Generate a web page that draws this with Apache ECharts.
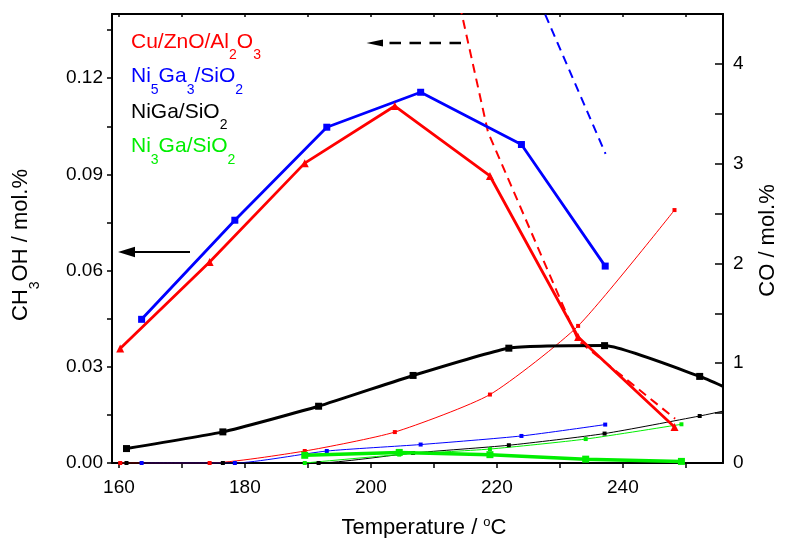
<!DOCTYPE html>
<html><head><meta charset="utf-8">
<script src="https://cdn.jsdelivr.net/npm/echarts@6/dist/echarts.min.js"></script>
<style>html,body{margin:0;padding:0;background:#fff}#c{width:786px;height:538px}</style>
</head><body><div id="c"></div>
<script>
const FONT = '"Liberation Sans", Arial, Helvetica, sans-serif';

// ---- axes ----
const xMin = 158.9, xMax = 255.9;
const xTickLabels = [160, 180, 200, 220, 240];
const xTickValues = [160, 170, 180, 190, 200, 210, 220, 230, 240, 250];
const leftTickLabels = [0, 0.03, 0.06, 0.09, 0.12];
const leftTickValues = [0, 0.015, 0.03, 0.045, 0.06, 0.075, 0.09, 0.105, 0.12, 0.135];
const rightTickLabels = [0, 1, 2, 3, 4];
const rightTickValues = [0, 0.5, 1, 1.5, 2, 2.5, 3, 3.5, 4];

// ---- Cu/ZnO/Al2O3 (red) ----
const tempCu = [160.2, 174.4, 189.5, 203.8, 218.9, 232.9, 248.2];
const ch3ohCu = [0.0357, 0.0627, 0.0935, 0.1113, 0.0895, 0.0393, 0.0112];
const coCu = [0, 0, 0.12, 0.31, 0.686, 1.374, 2.535];
const tempCuDash = [203.8, 218.6, 232.9, 248.3];
const valCuDash = [0.234, 0.1031, 0.0382, 0.0138];

// ---- Ni5Ga3/SiO2 (blue) ----
const tempNi5 = [163.6, 178.4, 193.0, 207.9, 223.9, 237.2];
const ch3ohNi5 = [0.0448, 0.0757, 0.1047, 0.1156, 0.0993, 0.0614];
const coNi5 = [0, 0, 0.12, 0.185, 0.271, 0.385];
const tempNi5Dash = [223.9, 237.25];
const valNi5Dash = [0.157, 0.0964];

// ---- NiGa/SiO2 (black) ----
const tempNiGa = [161.2, 176.5, 191.7, 206.7, 221.9, 237.1, 252.2, 255.9];
const ch3ohNiGa = [0.0045, 0.0097, 0.0177, 0.0273, 0.0358, 0.0366, 0.0270, 0.0239];
const coNiGa = [0, 0, 0, 0.10, 0.178, 0.295, 0.471, 0.52];

// ---- Ni3Ga/SiO2 (green) ----
const tempNi3 = [189.5, 204.5, 218.9, 234.1, 249.3];
const ch3ohNi3 = [0.0024, 0.0033, 0.0026, 0.0012, 0.0005];
const coNi3 = [0, 0.084, 0.14, 0.24, 0.388];

const RED = '#ff0000', BLUE = '#0000ff', BLACK = '#000000', GREEN = '#00ee00';

function pairs(xs, ys, lastHidden) {
  return xs.map((x, i) => {
    if (lastHidden && i === xs.length - 1) return { value: [x, ys[i]], symbol: 'none' };
    return [x, ys[i]];
  });
}

function thick(name, xs, ys, color, symbol, size, width, smooth, lastHidden) {
  return {
    name, type: 'line', xAxisIndex: 0, yAxisIndex: 0, data: pairs(xs, ys, lastHidden),
    symbol, symbolSize: size, showAllSymbol: true, smooth: smooth || false,
    lineStyle: { color, width }, itemStyle: { color, borderWidth: 0 }, z: 5
  };
}
function thin(name, xs, ys, color, lastHidden) {
  return {
    name, type: 'line', xAxisIndex: 0, yAxisIndex: 1, data: pairs(xs, ys, lastHidden),
    symbol: 'rect', symbolSize: 4, showAllSymbol: true, smooth: 0.2,
    lineStyle: { color, width: 1 }, itemStyle: { color, borderWidth: 0 }, z: 3
  };
}
function dashed(name, xs, ys, color) {
  return {
    name, type: 'line', xAxisIndex: 0, yAxisIndex: 0, data: pairs(xs, ys),
    symbol: 'none', lineStyle: { color, width: 2, type: [9, 6] }, z: 4
  };
}

const axisLine = { show: true, onZero: false, lineStyle: { color: '#000', width: 2 } };
const tickFont = { fontSize: 19, color: '#000', fontFamily: FONT };

// subscript: base token top-aligned, sub token bottom-aligned in a tall line
const legendRich = (color) => ({
  b: { fontSize: 21, lineHeight: 31, verticalAlign: 'top', fill: color, fontFamily: FONT },
  s: { fontSize: 14, lineHeight: 31, verticalAlign: 'bottom', fill: color, fontFamily: FONT }
});
function legendText(text, color, y) {
  return { type: 'text', x: 131, y: y - 10.5, z: 20,
    style: { text, rich: legendRich(color), align: 'left', verticalAlign: 'top' } };
}

const chart = echarts.init(document.getElementById('c'), null, { renderer: 'canvas' });
const option = {
  animation: false,
  backgroundColor: '#fff',
  grid: { left: 112, right: 63, top: 14, bottom: 75 },
  xAxis: [
    { type: 'value', min: xMin, max: xMax, position: 'bottom', axisLine,
      axisTick: { customValues: xTickValues, inside: false, length: 5, lineStyle: { color: '#000', width: 1.5 } },
      axisLabel: Object.assign({ customValues: xTickLabels, margin: 15 }, tickFont),
      splitLine: { show: false } },
    { type: 'value', min: xMin, max: xMax, position: 'top', axisLine,
      axisTick: { customValues: xTickValues, inside: true, length: 3, lineStyle: { color: '#000', width: 1.5 } },
      axisLabel: { show: false }, splitLine: { show: false } }
  ],
  yAxis: [
    { type: 'value', min: 0, max: 0.14, position: 'left', axisLine,
      axisTick: { customValues: leftTickValues, inside: false, length: 5, lineStyle: { color: '#000', width: 1.5 } },
      axisLabel: Object.assign({ customValues: leftTickLabels, margin: 9, formatter: v => v.toFixed(2) }, tickFont),
      splitLine: { show: false } },
    { type: 'value', min: 0, max: 4.5, position: 'right', axisLine,
      axisTick: { customValues: rightTickValues, inside: true, length: 8, lineStyle: { color: '#000', width: 1.5 } },
      axisLabel: Object.assign({ customValues: rightTickLabels, margin: 10 }, tickFont),
      splitLine: { show: false } }
  ],
  series: [
    thin('CO Cu/ZnO/Al2O3', tempCu, coCu, RED),
    thin('CO Ni5Ga3/SiO2', tempNi5, coNi5, BLUE),
    thin('CO NiGa/SiO2', tempNiGa, coNiGa, BLACK, true),
    thin('CO Ni3Ga/SiO2', tempNi3, coNi3, GREEN),
    dashed('Cu/ZnO/Al2O3 dashed', tempCuDash, valCuDash, RED),
    dashed('Ni5Ga3/SiO2 dashed', tempNi5Dash, valNi5Dash, BLUE),
    thick('CH3OH NiGa/SiO2', tempNiGa, ch3ohNiGa, BLACK, 'rect', 7, 3, 0.15, true),
    thick('CH3OH Ni3Ga/SiO2', tempNi3, ch3ohNi3, GREEN, 'rect', 7, 3.5),
    thick('CH3OH Ni5Ga3/SiO2', tempNi5, ch3ohNi5, BLUE, 'rect', 7, 2.8),
    thick('CH3OH Cu/ZnO/Al2O3', tempCu, ch3ohCu, RED, 'triangle', 8, 2.8)
  ],
  graphic: [
    legendText('{b|Cu/ZnO/Al}{s|2}{b|O}{s|3}', RED, 42),
    legendText('{b|Ni}{s|5}{b|Ga}{s|3}{b|/SiO}{s|2}', BLUE, 76.7),
    legendText('{b|NiGa/SiO}{s|2}', BLACK, 112),
    legendText('{b|Ni}{s|3}{b|Ga/SiO}{s|2}', GREEN, 146.7),
    // axis titles
    { type: 'text', x: 424, y: 527.5, z: 20,
      style: { text: '{b|Temperature / }{p|o}{b|C}', align: 'center', verticalAlign: 'top',
        rich: { b: { fontSize: 22, lineHeight: 23, verticalAlign: 'bottom', fill: '#000', fontFamily: FONT },
                p: { fontSize: 13, lineHeight: 23, verticalAlign: 'top', fill: '#000', fontFamily: FONT } } } ,
      // shift so base text centre sits at 527.5
      y: 527.5 - 12 },
    { type: 'text', x: 26, y: 245, rotation: Math.PI / 2, z: 20,
      style: { text: '{b|CH}{s|3}{b|OH / mol.%}', align: 'center', verticalAlign: 'middle',
        rich: { b: { fontSize: 22, lineHeight: 32, verticalAlign: 'top', fill: '#000', fontFamily: FONT },
                s: { fontSize: 14, lineHeight: 32, verticalAlign: 'bottom', fill: '#000', fontFamily: FONT } } } },
    { type: 'text', x: 768, y: 240.5, rotation: Math.PI / 2, z: 20,
      style: { text: 'CO / mol.%', align: 'center', verticalAlign: 'middle', fontSize: 22, fill: '#000', fontFamily: FONT } },
    // solid arrow (left)
    { type: 'line', z: 20, shape: { x1: 190, y1: 252, x2: 130, y2: 252 }, style: { stroke: '#000', lineWidth: 2 } },
    { type: 'polygon', z: 20, shape: { points: [[118, 252], [135, 246.7], [135, 257.3]] }, style: { fill: '#000' } },
    // dashed arrow (top)
    { type: 'line', z: 20, shape: { x1: 461, y1: 43, x2: 387, y2: 43 }, style: { stroke: '#000', lineWidth: 2.5, lineDash: [11.5, 8.5] } },
    { type: 'polygon', z: 20, shape: { points: [[366.5, 43], [383, 39.5], [383, 46.5]] }, style: { fill: '#000' } }
  ]
};
chart.setOption(option);
</script>
</body></html>
